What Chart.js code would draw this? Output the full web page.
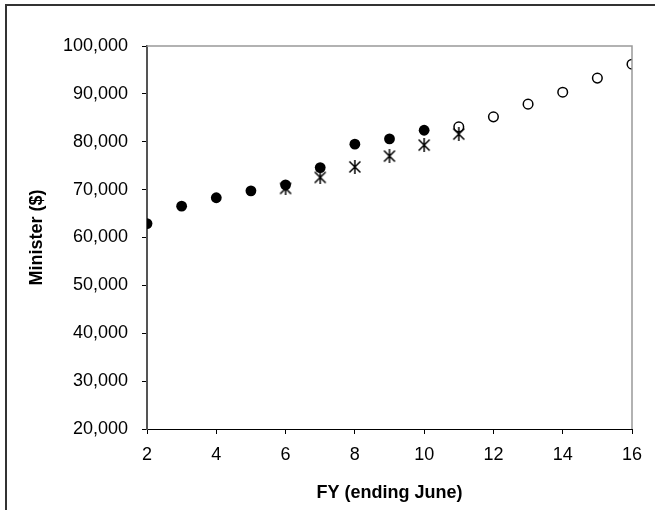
<!DOCTYPE html>
<html>
<head>
<meta charset="utf-8">
<script src="https://cdn.jsdelivr.net/npm/chart.js@4.4.1/dist/chart.umd.min.js"></script>
<style>
  html, body { margin: 0; padding: 0; background: #fff; }
  #wrap { width: 655px; height: 510px; }
</style>
</head>
<body>
<div id="wrap"><canvas id="salaryChart" width="655" height="510"></canvas></div>
<script>
// values
const actualYears = [2, 3, 4, 5, 6, 7, 8, 9, 10];
const actualPay = [62900, 66550, 68300, 69750, 71000, 74600, 79500, 80600, 82400];
const indexedYears = [6, 7, 8, 9, 10, 11];
const indexedPay = [70250, 72550, 74750, 77000, 79300, 81600];
const projectedYears = [11, 12, 13, 14, 15, 16];
const projectedPay = [83100, 85200, 87850, 90350, 93300, 96200];

const xTicks = [2, 4, 6, 8, 10, 12, 14, 16];
const yTicks = [20000, 30000, 40000, 50000, 60000, 70000, 80000, 90000, 100000];

const FONT = "'Liberation Sans', Arial, sans-serif";

function toPoints(xs, ys) {
  return xs.map((x, i) => ({ x: x, y: ys[i] }));
}

// excel style star marker: X with a vertical bar
function makeStar(size) {
  const c = document.createElement("canvas");
  c.width = size;
  c.height = size;
  const g = c.getContext("2d");
  g.strokeStyle = "#000";
  g.lineWidth = 1.5;
  const m = 1.5;
  const h = size / 2;
  g.beginPath();
  g.moveTo(m, m); g.lineTo(size - m, size - m);
  g.moveTo(size - m, m); g.lineTo(m, size - m);
  g.moveTo(h, 0); g.lineTo(h, size);
  g.stroke();
  return c;
}

const frame = {
  id: "frame",
  afterDraw(chart) {
    const ctx = chart.ctx;
    const a = chart.chartArea;
    ctx.save();
    // outer chart border (cropped on the right / bottom)
    ctx.strokeStyle = "#333";
    ctx.lineWidth = 2;
    ctx.beginPath();
    ctx.moveTo(6, 520);
    ctx.lineTo(6, 5);
    ctx.lineTo(660, 5);
    ctx.stroke();
    // plot area border, top and right
    ctx.strokeStyle = "#999";
    ctx.lineWidth = 1.5;
    ctx.beginPath();
    ctx.moveTo(a.left, a.top);
    ctx.lineTo(a.right, a.top);
    ctx.lineTo(a.right, a.bottom);
    ctx.stroke();
    ctx.restore();
  }
};

new Chart(document.getElementById("salaryChart"), {
  type: "scatter",
  data: {
    datasets: [
      {
        label: "Actual",
        data: toPoints(actualYears, actualPay),
        pointStyle: "circle",
        pointRadius: 5.4,
        backgroundColor: "#000",
        borderColor: "#000",
        borderWidth: 0,
        order: 3
      },
      {
        label: "Indexed",
        data: toPoints(indexedYears, indexedPay),
        pointStyle: makeStar(14),
        backgroundColor: "#000",
        borderColor: "#000",
        order: 1
      },
      {
        label: "Projected",
        data: toPoints(projectedYears, projectedPay),
        pointStyle: "circle",
        pointRadius: 4.8,
        backgroundColor: "rgba(0,0,0,0)",
        borderColor: "#000",
        borderWidth: 1.5,
        order: 2
      }
    ]
  },
  options: {
    responsive: false,
    animation: false,
    layout: { padding: { left: 0, right: 23, top: 46, bottom: 0 } },
    plugins: {
      legend: { display: false },
      tooltip: { enabled: false }
    },
    scales: {
      x: {
        type: "linear",
        min: 2,
        max: 16,
        afterBuildTicks: s => { s.ticks = xTicks.map(v => ({ value: v })); },
        afterFit: s => { s.height = 81; },
        grid: { drawOnChartArea: false, drawTicks: true, tickLength: 5, color: "#000" },
        border: { color: "#000", width: 1 },
        ticks: { color: "#000", padding: 10, maxRotation: 0, font: { family: FONT, size: 18 } },
        title: {
          display: true,
          text: "FY (ending June)",
          color: "#000",
          padding: { top: 4, bottom: 6 },
          font: { family: FONT, size: 18, weight: "bold" }
        }
      },
      y: {
        type: "linear",
        min: 20000,
        max: 100000,
        afterBuildTicks: s => { s.ticks = yTicks.map(v => ({ value: v })); },
        afterFit: s => { s.width = 147; },
        grid: { drawOnChartArea: false, drawTicks: true, tickLength: 5, color: "#000" },
        border: { color: "#555", width: 2 },
        ticks: {
          color: "#000",
          padding: 14,
          font: { family: FONT, size: 18 },
          callback: v => v.toLocaleString("en-US")
        },
        title: {
          display: true,
          text: "Minister ($)",
          color: "#000",
          padding: { top: 26, bottom: 0 },
          font: { family: FONT, size: 18, weight: "bold" }
        }
      }
    }
  },
  plugins: [frame]
});
</script>
</body>
</html>
